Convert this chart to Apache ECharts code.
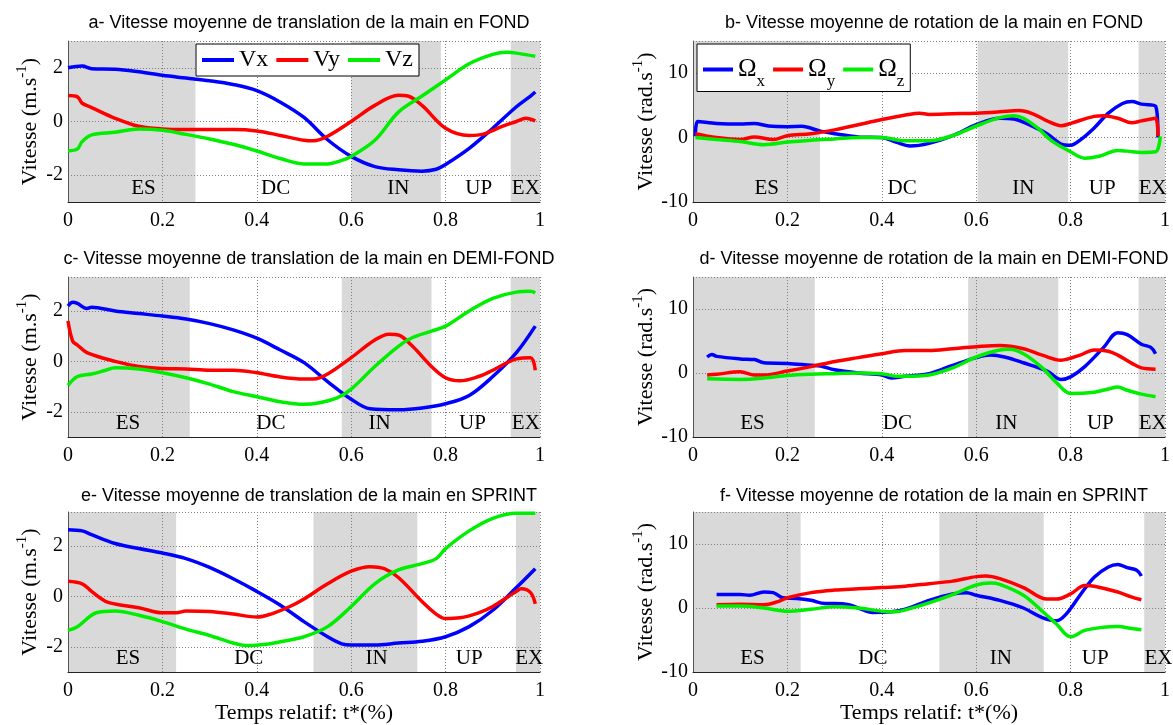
<!DOCTYPE html>
<html><head><meta charset="utf-8">
<script src="https://cdn.jsdelivr.net/npm/echarts@6/dist/echarts.min.js"></script>
<style>html,body{margin:0;padding:0;background:#fff}#c{width:1173px;height:725px}</style>
</head><body><div id="c"></div><script>
// ---------------- DATA ----------------
const titles = [
  'a- Vitesse moyenne de translation de la main en FOND',
  'b- Vitesse moyenne de rotation de la main en FOND',
  'c- Vitesse moyenne de translation de la main en DEMI-FOND',
  'd- Vitesse moyenne de rotation de la main en DEMI-FOND',
  'e- Vitesse moyenne de translation de la main en SPRINT',
  'f- Vitesse moyenne de rotation de la main en SPRINT'
];
const transNames = ['Vx', 'Vy', 'Vz'];
const rotNames = ['Ωx', 'Ωy', 'Ωz'];
const phaseNames = ['ES', 'DC', 'IN', 'UP', 'EX'];
const xTicks = [0, 0.2, 0.4, 0.6, 0.8, 1];

// phase boundaries: [end ES, start IN, end IN, start EX]
const phasesA = [0.27, 0.6, 0.79, 0.938];
const phasesB = [0.269, 0.603, 0.795, 0.944];
const phasesC = [0.258, 0.58, 0.77, 0.938];
const phasesD = [0.258, 0.583, 0.774, 0.944];
const phasesE = [0.229, 0.52, 0.74, 0.949];
const phasesF = [0.228, 0.522, 0.743, 0.956];

// phase label x-positions (ES, DC, IN, UP, EX)
const labelXA = [0.16, 0.44, 0.70, 0.87, 0.97];
const labelXB = [0.156, 0.443, 0.70, 0.867, 0.974];
const labelXC = [0.127, 0.43, 0.66, 0.857, 0.97];
const labelXD = [0.126, 0.433, 0.664, 0.863, 0.974];
const labelXE = [0.127, 0.383, 0.654, 0.85, 0.977];
const labelXF = [0.126, 0.381, 0.652, 0.852, 0.986];

// y ranges & tick labels
const yRangeA = [-3, 3];
const yRangeCE = [-3, 3.35];
const yRangeRot = [-10, 15];
const yTicksTrans = [-2, 0, 2];
const yTicksRot = [-10, 0, 10];

// a- FOND translation
const a_Vx = [[0,2.0],[0.03,2.07],[0.05,1.97],[0.1,1.95],[0.15,1.85],[0.2,1.72],[0.25,1.62],[0.3,1.52],[0.35,1.38],[0.4,1.15],[0.45,0.72],[0.5,0.15],[0.55,-0.68],[0.6,-1.3],[0.65,-1.68],[0.7,-1.8],[0.75,-1.85],[0.78,-1.78],[0.8,-1.6],[0.85,-1.0],[0.9,-0.25],[0.95,0.55],[0.98,0.95],[0.99,1.1]];
const a_Vy = [[0,0.97],[0.02,0.92],[0.03,0.68],[0.05,0.52],[0.1,0.12],[0.15,-0.18],[0.2,-0.28],[0.25,-0.3],[0.3,-0.3],[0.35,-0.3],[0.4,-0.35],[0.45,-0.52],[0.5,-0.7],[0.52,-0.72],[0.55,-0.55],[0.6,0.0],[0.65,0.6],[0.7,0.98],[0.72,0.95],[0.75,0.6],[0.8,-0.25],[0.85,-0.52],[0.88,-0.47],[0.92,-0.18],[0.95,0.0],[0.97,0.12],[0.99,0.02]];
const a_Vz = [[0,-1.1],[0.02,-1.02],[0.03,-0.75],[0.05,-0.5],[0.1,-0.4],[0.15,-0.28],[0.2,-0.33],[0.25,-0.48],[0.3,-0.65],[0.35,-0.85],[0.4,-1.1],[0.45,-1.38],[0.5,-1.58],[0.55,-1.58],[0.58,-1.45],[0.6,-1.3],[0.65,-0.7],[0.7,0.35],[0.75,0.95],[0.8,1.55],[0.85,2.15],[0.9,2.5],[0.93,2.58],[0.96,2.52],[0.99,2.43]];

// b- FOND rotation
const b_Ox = [[0.005,0.2],[0.01,2.5],[0.05,2.2],[0.1,2.1],[0.13,2.2],[0.16,1.8],[0.2,1.7],[0.23,1.75],[0.27,1.0],[0.3,0.6],[0.35,0.1],[0.4,0.0],[0.43,-0.7],[0.46,-1.3],[0.5,-0.9],[0.55,0.3],[0.6,2.0],[0.65,3.0],[0.68,2.9],[0.7,2.4],[0.75,0.6],[0.78,-1.0],[0.8,-1.2],[0.82,-0.4],[0.85,1.5],[0.88,3.8],[0.91,5.3],[0.93,5.6],[0.95,5.2],[0.98,4.9],[0.985,0.0]];
const b_Oy = [[0.005,0.6],[0.05,0.0],[0.1,-0.3],[0.13,0.1],[0.17,-0.3],[0.2,0.3],[0.25,0.6],[0.3,1.2],[0.35,2.0],[0.4,2.8],[0.45,3.5],[0.48,3.8],[0.5,3.6],[0.55,3.7],[0.6,3.8],[0.65,4.0],[0.69,4.2],[0.72,3.7],[0.75,2.6],[0.78,1.85],[0.8,2.2],[0.85,3.3],[0.87,3.4],[0.9,3.0],[0.93,2.3],[0.95,2.6],[0.98,3.0],[0.985,0.2]];
const b_Oz = [[0.005,0.0],[0.05,-0.3],[0.1,-0.6],[0.15,-1.1],[0.2,-0.7],[0.25,-0.4],[0.3,-0.2],[0.35,0.0],[0.4,0.0],[0.45,-0.5],[0.5,-0.5],[0.55,0.3],[0.6,1.8],[0.65,3.1],[0.68,3.4],[0.7,3.0],[0.73,1.5],[0.76,-0.5],[0.8,-2.2],[0.83,-3.2],[0.86,-2.9],[0.9,-2.0],[0.92,-2.1],[0.95,-2.3],[0.98,-2.2],[0.99,0.2]];

// c- DEMI-FOND translation
const c_Vx = [[0,2.2],[0.01,2.35],[0.02,2.3],[0.04,2.1],[0.05,2.15],[0.1,2.0],[0.15,1.9],[0.2,1.8],[0.25,1.68],[0.3,1.5],[0.35,1.25],[0.4,0.92],[0.45,0.45],[0.5,-0.05],[0.55,-0.8],[0.6,-1.5],[0.64,-1.88],[0.7,-1.92],[0.75,-1.85],[0.8,-1.68],[0.85,-1.35],[0.9,-0.6],[0.95,0.35],[0.99,1.4]];
const c_Vy = [[0,1.6],[0.01,0.8],[0.02,0.65],[0.04,0.35],[0.1,0.0],[0.15,-0.2],[0.2,-0.28],[0.25,-0.3],[0.3,-0.35],[0.35,-0.35],[0.4,-0.45],[0.45,-0.62],[0.5,-0.7],[0.52,-0.7],[0.55,-0.5],[0.6,0.15],[0.65,0.85],[0.68,1.08],[0.7,1.05],[0.73,0.6],[0.77,-0.2],[0.8,-0.65],[0.83,-0.77],[0.87,-0.6],[0.9,-0.35],[0.95,0.1],[0.98,0.15],[0.99,-0.35]];
const c_Vz = [[0,-0.95],[0.02,-0.6],[0.05,-0.5],[0.08,-0.35],[0.1,-0.25],[0.15,-0.3],[0.2,-0.45],[0.25,-0.65],[0.3,-0.9],[0.35,-1.2],[0.4,-1.4],[0.45,-1.6],[0.5,-1.7],[0.53,-1.65],[0.57,-1.45],[0.6,-1.1],[0.65,-0.2],[0.7,0.6],[0.73,0.95],[0.77,1.2],[0.8,1.4],[0.85,2.0],[0.9,2.5],[0.95,2.75],[0.98,2.78],[0.99,2.72]];

// d- DEMI-FOND rotation
const d_Ox = [[0.03,2.5],[0.04,2.9],[0.05,2.6],[0.1,2.2],[0.13,2.1],[0.15,1.6],[0.2,1.5],[0.25,1.2],[0.27,1.1],[0.3,0.5],[0.35,0.0],[0.4,-0.3],[0.42,-0.8],[0.45,-0.5],[0.5,-0.1],[0.55,1.2],[0.6,2.4],[0.63,2.8],[0.66,2.5],[0.7,1.6],[0.75,0.3],[0.78,-1.0],[0.8,-0.6],[0.83,1.0],[0.87,4.0],[0.9,6.3],[0.92,6.0],[0.95,4.5],[0.97,4.0],[0.98,3.0]];
const d_Oy = [[0.03,-0.3],[0.05,-0.2],[0.1,0.2],[0.13,-0.3],[0.15,-0.3],[0.2,0.3],[0.25,1.0],[0.3,1.8],[0.35,2.4],[0.4,3.0],[0.45,3.5],[0.5,3.5],[0.55,3.8],[0.6,4.1],[0.65,4.3],[0.7,3.8],[0.74,2.8],[0.78,2.0],[0.82,2.8],[0.85,3.6],[0.88,3.4],[0.9,2.8],[0.93,1.5],[0.95,0.8],[0.98,0.6]];
const d_Oz = [[0.03,-0.9],[0.1,-1.0],[0.15,-0.8],[0.2,-0.4],[0.25,-0.2],[0.3,-0.1],[0.35,0.0],[0.4,-0.1],[0.43,-0.5],[0.45,-0.5],[0.5,-0.3],[0.55,0.8],[0.6,2.5],[0.65,3.6],[0.67,3.7],[0.7,3.0],[0.74,0.8],[0.77,-1.5],[0.8,-3.2],[0.85,-3.0],[0.88,-2.5],[0.9,-2.2],[0.92,-2.7],[0.95,-3.3],[0.98,-3.7]];

// e- SPRINT translation
const e_Vx = [[0,2.65],[0.03,2.6],[0.05,2.45],[0.1,2.1],[0.15,1.9],[0.2,1.72],[0.25,1.5],[0.3,1.15],[0.35,0.7],[0.4,0.2],[0.45,-0.35],[0.5,-1.0],[0.55,-1.6],[0.58,-1.88],[0.6,-1.93],[0.65,-1.93],[0.7,-1.85],[0.75,-1.78],[0.8,-1.6],[0.85,-1.2],[0.9,-0.55],[0.95,0.35],[0.99,1.1]];
const e_Vy = [[0,0.6],[0.03,0.5],[0.05,0.2],[0.08,-0.2],[0.1,-0.3],[0.15,-0.45],[0.2,-0.65],[0.23,-0.65],[0.25,-0.58],[0.3,-0.6],[0.35,-0.7],[0.4,-0.82],[0.43,-0.7],[0.47,-0.4],[0.5,-0.1],[0.55,0.5],[0.6,1.0],[0.64,1.18],[0.67,1.1],[0.7,0.75],[0.75,-0.2],[0.78,-0.7],[0.8,-0.88],[0.83,-0.85],[0.87,-0.65],[0.9,-0.4],[0.95,0.2],[0.96,0.3],[0.98,0.15],[0.99,-0.3]];
const e_Vz = [[0,-1.35],[0.02,-1.2],[0.06,-0.65],[0.1,-0.58],[0.15,-0.75],[0.2,-1.0],[0.25,-1.3],[0.3,-1.55],[0.35,-1.85],[0.38,-1.95],[0.42,-1.9],[0.45,-1.8],[0.5,-1.6],[0.55,-1.2],[0.6,-0.4],[0.65,0.5],[0.7,1.05],[0.75,1.3],[0.78,1.5],[0.8,1.9],[0.85,2.6],[0.9,3.1],[0.95,3.3],[0.99,3.3]];

// f- SPRINT rotation
const f_Ox = [[0.05,2.1],[0.1,2.1],[0.12,2.0],[0.15,2.5],[0.17,2.4],[0.19,1.6],[0.22,1.5],[0.25,1.2],[0.28,0.7],[0.3,0.7],[0.33,0.5],[0.36,-0.3],[0.38,-0.7],[0.42,-0.6],[0.45,-0.2],[0.5,1.2],[0.55,2.2],[0.58,2.4],[0.6,2.0],[0.65,1.2],[0.7,0.0],[0.74,-1.5],[0.77,-2.0],[0.79,-1.0],[0.82,2.0],[0.85,4.8],[0.88,6.4],[0.9,6.8],[0.92,6.3],[0.94,5.9],[0.95,5.0]];
const f_Oy = [[0.05,0.5],[0.1,0.6],[0.15,0.5],[0.18,1.0],[0.2,1.6],[0.25,2.4],[0.3,2.8],[0.35,3.0],[0.4,3.2],[0.45,3.4],[0.5,3.8],[0.55,4.2],[0.6,4.9],[0.62,5.0],[0.65,4.6],[0.7,3.2],[0.75,1.4],[0.77,1.4],[0.8,2.2],[0.83,3.5],[0.85,3.4],[0.9,2.5],[0.93,1.7],[0.95,1.3]];
const f_Oz = [[0.05,0.3],[0.1,0.3],[0.15,0.0],[0.2,-0.5],[0.25,-0.2],[0.3,0.2],[0.35,0.0],[0.4,-0.5],[0.43,-0.6],[0.45,-0.3],[0.5,0.8],[0.55,2.1],[0.6,3.6],[0.63,3.9],[0.65,3.7],[0.7,2.0],[0.74,-0.5],[0.77,-2.5],[0.8,-4.5],[0.83,-3.5],[0.87,-3.0],[0.9,-2.9],[0.93,-3.2],[0.95,-3.4]];

// ---------------- LAYOUT / STYLE ----------------
const COLORS = ['#0000ff', '#ff0000', '#00ee00'];
const SERIF = '"Liberation Serif", "Times New Roman", serif';
const SANS = '"Liberation Sans", Arial, sans-serif';
const GRID_COLOR = '#808080';
const SHADE = '#d9d9d9';
const colLeft = [68, 693];
const plotW = 472;
const rowTop = [41, 277, 512];
const rowH = [161, 160, 160];

const panels = [
  {series: [a_Vx, a_Vy, a_Vz], names: transNames, phases: phasesA, lx: labelXA, yr: yRangeA, yt: yTicksTrans, rot: false},
  {series: [b_Ox, b_Oy, b_Oz], names: rotNames, phases: phasesB, lx: labelXB, yr: yRangeRot, yt: yTicksRot, rot: true},
  {series: [c_Vx, c_Vy, c_Vz], names: transNames, phases: phasesC, lx: labelXC, yr: yRangeCE, yt: yTicksTrans, rot: false},
  {series: [d_Ox, d_Oy, d_Oz], names: rotNames, phases: phasesD, lx: labelXD, yr: yRangeRot, yt: yTicksRot, rot: true},
  {series: [e_Vx, e_Vy, e_Vz], names: transNames, phases: phasesE, lx: labelXE, yr: yRangeCE, yt: yTicksTrans, rot: false},
  {series: [f_Ox, f_Oy, f_Oz], names: rotNames, phases: phasesF, lx: labelXF, yr: yRangeRot, yt: yTicksRot, rot: true}
];

const grids = [], xAxes = [], yAxes = [], series = [], titleOpts = [];
panels.forEach((p, i) => {
  const col = i % 2, row = Math.floor(i / 2);
  grids.push({left: colLeft[col], top: rowTop[row], width: plotW, height: rowH[row], containLabel: false});
  titleOpts.push({
    text: titles[i], left: colLeft[col] + plotW / 2, textAlign: 'center', top: rowTop[row] - (row === 2 ? 30 : 32),
    textStyle: {fontFamily: SANS, fontSize: 18, fontWeight: 'normal', color: '#000'}
  });
  const step = p.rot ? 10 : 1;
  // split-line colours: visible only at labelled ticks and top border
  const ticks = [];
  for (let v = p.yr[0]; v <= p.yr[1] + 1e-9; v += step) ticks.push(Math.round(v * 100) / 100);
  if (ticks[ticks.length - 1] < p.yr[1] - 1e-9) ticks.push(p.yr[1]);
  const lineColors = ticks.map((t, k) => (k === ticks.length - 1 || (p.yt.indexOf(t) >= 0 && t !== p.yr[0])) ? GRID_COLOR : 'rgba(0,0,0,0)');
  xAxes.push({
    type: 'value', gridIndex: i, min: 0, max: 1, interval: 0.2, z: 2,
    axisLine: {show: true, onZero: false, lineStyle: {color: '#222', width: 1}},
    axisTick: {show: false},
    axisLabel: {fontFamily: SERIF, fontSize: 20, color: '#000', margin: 9,
      formatter: v => String(Math.round(v * 10) / 10)},
    splitLine: {show: true, lineStyle: {color: GRID_COLOR, type: [1, 2], width: 1}},
    name: row === 2 ? 'Temps relatif: t*(%)' : '', nameLocation: 'middle', nameGap: 26,
    nameTextStyle: {fontFamily: SERIF, fontSize: 22, color: '#000'}
  });
  yAxes.push({
    type: 'value', gridIndex: i, min: p.yr[0], max: p.yr[1], interval: step, z: 2,
    axisLine: {show: true, onZero: false, lineStyle: {color: '#555', width: 1}},
    axisTick: {show: false},
    axisLabel: {fontFamily: SERIF, fontSize: 20, color: '#000', margin: 5,
      formatter: v => (p.yt.indexOf(Math.round(v * 100) / 100) >= 0 ? String(Math.round(v)) : '')},
    splitLine: {show: true, lineStyle: {color: lineColors, type: [1, 2], width: 1}},
    name: p.rot ? 'Vitesse (rad.s{sup|-1})' : 'Vitesse (m.s{sup|-1})',
    nameLocation: 'middle', nameGap: p.rot ? 31 : 22,
    nameTextStyle: {fontFamily: SERIF, fontSize: 22, color: '#000',
      rich: {sup: {fontFamily: SERIF, fontSize: 15, color: '#000', padding: [0, 0, 16, 0]}}}
  });
  // shaded phases + phase labels (positioned through the axes' scales)
  const ph = p.phases;
  series.push({
    type: 'custom', xAxisIndex: i, yAxisIndex: i, z: 4, silent: true, clip: false,
    data: p.lx.map((x, k) => [x, p.yr[0], k]),
    renderItem: (params, api) => {
      const pt = api.coord([api.value(0), api.value(1)]);
      return {type: 'text', x: pt[0], y: pt[1] - 3,
        style: {text: phaseNames[api.value(2)], fill: '#000', font: '21px ' + SERIF,
          textAlign: 'center', textVerticalAlign: 'bottom'}};
    },
    markArea: {silent: true, z: 1, itemStyle: {color: SHADE, opacity: 1}, label: {show: false},
      data: [[{xAxis: 0}, {xAxis: ph[0]}], [{xAxis: ph[1]}, {xAxis: ph[2]}], [{xAxis: ph[3]}, {xAxis: 1}]]}
  });
  p.series.forEach((d, k) => {
    series.push({
      type: 'line', name: p.names[k], xAxisIndex: i, yAxisIndex: i, z: 3,
      data: d, showSymbol: false, smooth: 0.35, silent: true,
      lineStyle: {color: COLORS[k], width: 3.5}, itemStyle: {color: COLORS[k]}
    });
  });
});

const legends = [
  {data: transNames, left: 196, top: 44, orient: 'horizontal', icon: 'rect',
   itemWidth: 32, itemHeight: 4, itemGap: 8, padding: [4, 6, 4, 6],
   borderColor: '#000', borderWidth: 1, backgroundColor: '#fff',
   textStyle: {fontFamily: SERIF, fontSize: 24, color: '#000'}, selectedMode: false},
  {data: rotNames, left: 697, top: 44, orient: 'horizontal', icon: 'rect',
   itemWidth: 30, itemHeight: 4, itemGap: 8, padding: [13, 6, 1, 6],
   borderColor: '#000', borderWidth: 1, backgroundColor: '#fff', selectedMode: false,
   formatter: n => '{o|Ω}{s|' + n.slice(1) + '}',
   textStyle: {fontFamily: SERIF, fontSize: 24, color: '#000',
     rich: {o: {fontFamily: SERIF, fontSize: 25, color: '#000'},
            s: {fontFamily: SERIF, fontSize: 17, color: '#000', padding: [25, 0, 0, 0]}}}}
];

const chart = echarts.init(document.getElementById('c'), null, {renderer: 'canvas'});
chart.setOption({
  animation: false,
  backgroundColor: '#fff',
  title: titleOpts,
  legend: legends,
  grid: grids,
  xAxis: xAxes,
  yAxis: yAxes,
  series: series
});
</script></body></html>
